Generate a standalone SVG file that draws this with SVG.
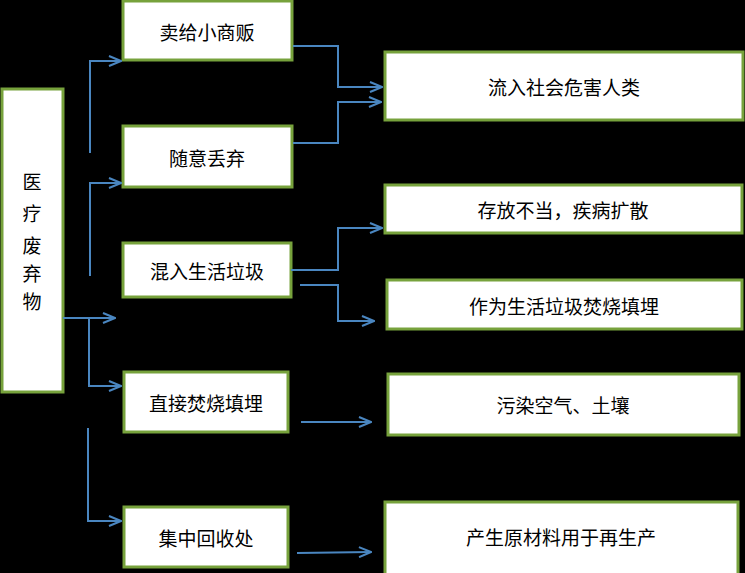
<svg xmlns="http://www.w3.org/2000/svg" width="745" height="573" viewBox="0 0 745 573">
<style>
.b{fill:#fff;stroke:#77a23c;stroke-width:3}
text{font-family:"Noto Sans CJK SC",sans-serif;font-size:19px;fill:#000;text-anchor:middle;dominant-baseline:central}
.c path{fill:none;stroke:#4a86c0;stroke-width:2}
</style>
<defs><marker id="a" markerWidth="14" markerHeight="12" refX="13" refY="6" orient="auto" markerUnits="userSpaceOnUse"><path d="M1,1 L13,6 L1,11" fill="none" stroke="#4a86c0" stroke-width="2"/></marker></defs>
<rect width="745" height="573" fill="#000"/>
<g id="n0"><rect class="b" x="2" y="89" width="61" height="303"/><text x="32" y="180">医</text><text x="32" y="212">疗</text><text x="32" y="244">废</text><text x="32" y="272">弃</text><text x="32" y="300">物</text></g>
<g id="n1"><rect class="b" x="123" y="1" width="169" height="59"/><text x="207" y="31">卖给小商贩</text></g>
<g id="n2"><rect class="b" x="123" y="126" width="169" height="61"/><text x="207" y="157">随意丢弃</text></g>
<g id="n3"><rect class="b" x="123" y="243" width="168" height="54"/><text x="207" y="270">混入生活垃圾</text></g>
<g id="n4"><rect class="b" x="124" y="372" width="164" height="60"/><text x="206" y="402">直接焚烧填埋</text></g>
<g id="n5"><rect class="b" x="124" y="507" width="164" height="60"/><text x="206" y="537">集中回收处</text></g>
<g id="r1"><rect class="b" x="385" y="52" width="358" height="68"/><text x="564" y="86">流入社会危害人类</text></g>
<g id="r2"><rect class="b" x="385" y="185" width="357" height="48"/><text x="563" y="209">存放不当，疾病扩散</text></g>
<g id="r3"><rect class="b" x="387" y="280" width="355" height="49"/><text x="564" y="305">作为生活垃圾焚烧填埋</text></g>
<g id="r4"><rect class="b" x="388" y="374" width="351" height="61"/><text x="563" y="404">污染空气、土壤</text></g>
<g id="r5"><rect class="b" x="385" y="502" width="353" height="73"/><text x="561" y="536">产生原材料用于再生产</text></g>
<g class="c">
<path d="M90,153 V61 H121" marker-end="url(#a)"/>
<path d="M90,276 V183 H121" marker-end="url(#a)"/>
<path d="M63,318 H115" marker-end="url(#a)"/>
<path d="M89,318 V386 H121" marker-end="url(#a)"/>
<path d="M88,428 V521 H121" marker-end="url(#a)"/>
<path d="M293,46 H338 V87 H382" marker-end="url(#a)"/>
<path d="M293,143 H338 V102 H381" marker-end="url(#a)"/>
<path d="M291,270 H338 V228 H382" marker-end="url(#a)"/>
<path d="M300,285 H338 V321 H374" marker-end="url(#a)"/>
<path d="M301,422 H371" marker-end="url(#a)"/>
<path d="M297,553 L371,552" marker-end="url(#a)"/>
</g>
</svg>
